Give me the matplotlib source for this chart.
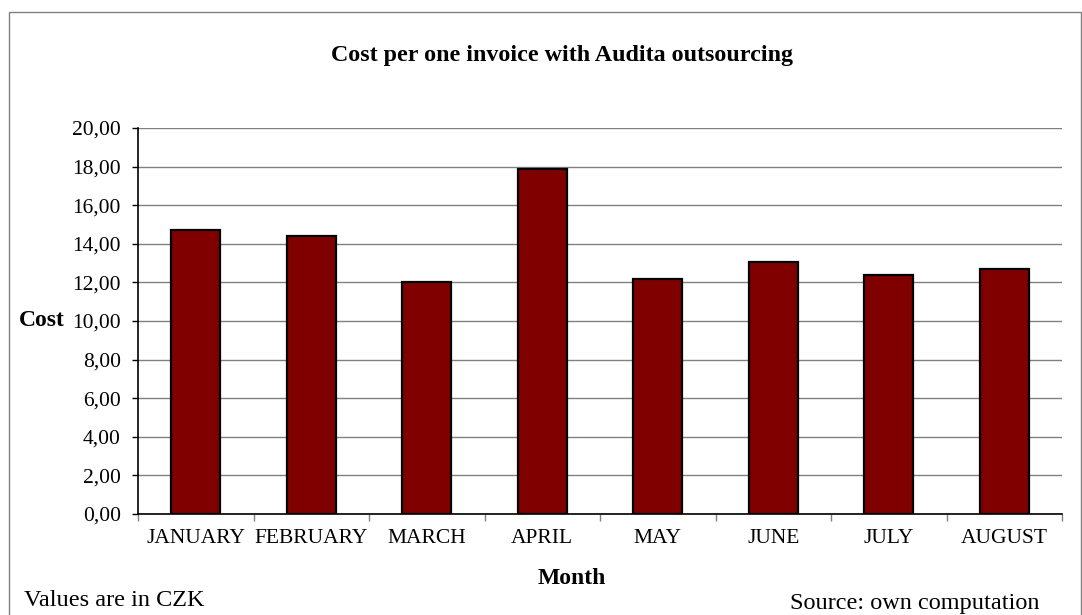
import numpy as np
import matplotlib
matplotlib.use("Agg")
from matplotlib import pyplot as plt
from matplotlib.patches import Rectangle
from matplotlib.ticker import FuncFormatter

months = ["JANUARY", "FEBRUARY", "MARCH", "APRIL", "MAY", "JUNE", "JULY", "AUGUST"]
cost = [14.71, 14.40, 12.04, 17.89, 12.18, 13.06, 12.40, 12.68]
yticks = [0, 2, 4, 6, 8, 10, 12, 14, 16, 18, 20]

plt.rcParams['font.family'] = ['Liberation Serif', 'DejaVu Serif']

W, H = 1082, 615
fig = plt.figure(figsize=(W / 100, H / 100), dpi=100)
ax = fig.add_axes([138 / W, 1 - 514 / H, (1062 - 138) / W, (514 - 128) / H])

# outer frame of the chart
fig.patches.append(Rectangle((9 / W, -0.01), (1081 - 9) / W, 1.01 - 12 / H, transform=fig.transFigure,
                             fill=False, edgecolor="#808080", linewidth=1.0))

x = np.arange(len(months))
ax.bar(x, cost, width=0.42, color="#800000", edgecolor="black", linewidth=1.6, zorder=3)

ax.set_ylim(0, 20)
ax.set_yticks(yticks)
ax.yaxis.set_major_formatter(FuncFormatter(lambda v, p: f"{v:.2f}".replace(".", ",")))
ax.grid(axis="y", color="#808080", linewidth=1.0, zorder=0)
ax.tick_params(axis="y", direction="out", length=4, width=1, labelsize=15.5, pad=8.5)

ax.set_xlim(-0.5, len(months) - 0.5)
ax.set_xticks(np.arange(len(months) + 1) - 0.5)
ax.set_xticklabels([])
ax.set_xticks(x, minor=True)
ax.set_xticklabels(months, minor=True)
ax.tick_params(axis="x", which="major", direction="out", length=5, width=1, color="#808080")
ax.tick_params(axis="x", which="minor", length=0, labelsize=15.5, pad=11)

for s in ["top", "right"]:
    ax.spines[s].set_visible(False)
for s in ["left", "bottom"]:
    ax.spines[s].set_linewidth(1.2)

fig.text(562 / W, 1 - 55 / H, "Cost per one invoice with Audita outsourcing",
         ha="center", va="center", fontsize=17.3, fontweight="bold")
fig.text(42 / W, 1 - 321 / H, "Cost", ha="center", va="center", fontsize=17, fontweight="bold")
fig.text(572 / W, 1 - 579 / H, "Month", ha="center", va="center", fontsize=17, fontweight="bold")
fig.text(24 / W, 1 - 600 / H, "Values are in CZK", ha="left", va="center", fontsize=17.5)
fig.text(1040 / W, 1 - 604 / H, "Source: own computation", ha="right", va="center", fontsize=17.5)

fig.savefig("out.png", dpi=100)
